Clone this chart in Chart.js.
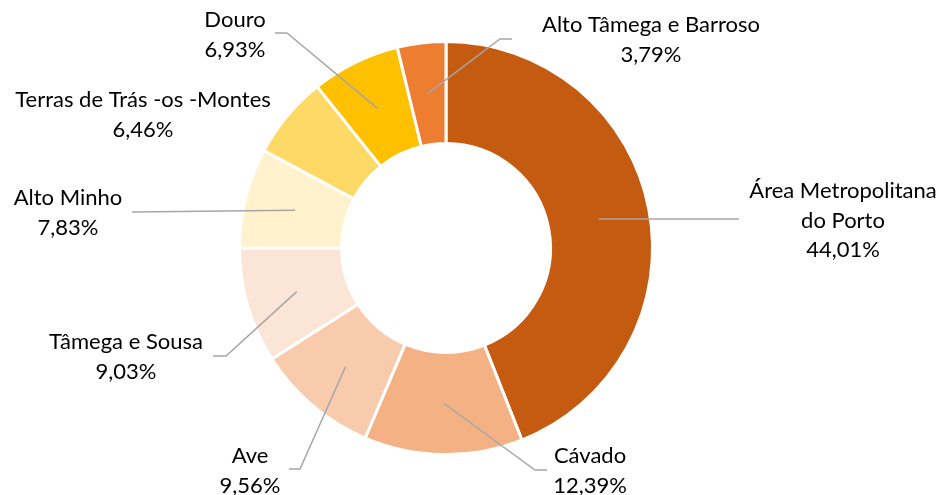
<!DOCTYPE html>
<html>
<head>
<meta charset="utf-8">
<script src="https://cdn.jsdelivr.net/npm/chart.js@4.4.0/dist/chart.umd.min.js"></script>
<style>
  html, body { margin: 0; background: #fff; }
</style>
</head>
<body>
<canvas id="chart" width="944" height="495"></canvas>
<script>
// regions of Norte, clockwise from 12 o'clock
const regions = [
  "Área Metropolitana\ndo Porto",
  "Cávado",
  "Ave",
  "Tâmega e Sousa",
  "Alto Minho",
  "Terras de Trás -os -Montes",
  "Douro",
  "Alto Tâmega e Barroso",
];
const shares = [44.01, 12.39, 9.56, 9.03, 7.83, 6.46, 6.93, 3.79];
const colors = ["#C55A11", "#F4B183", "#F8CBAD", "#FBE5D6", "#FFF2CC", "#FFD966", "#FFC000", "#ED7D31"];

// where each label sits (first baseline) and how its leader line bends
const labelSpots = [
  { x: 843, y: 198, end: [739, 219] },
  { x: 590, y: 463, elbow: [535, 470], end: [547, 470] },
  { x: 250, y: 463, elbow: [300, 469], end: [289, 469] },
  { x: 126, y: 349, elbow: [226, 356], end: [213, 356] },
  { x: 68, y: 205, end: [132, 212] },
  { x: 143, y: 107 },
  { x: 235, y: 27, elbow: [287, 33], end: [275, 33] },
  { x: 651, y: 32, elbow: [500, 39], end: [512, 39] },
];

const FONT = '22px Lato, "Open Sans", sans-serif';
const LINE_H = 29.5;

const sliceLabels = {
  id: "sliceLabels",
  afterDatasetsDraw(chart) {
    const ctx = chart.ctx;
    const arcs = chart.getDatasetMeta(0).data;
    ctx.save();

    ctx.strokeStyle = "#A6A6A6";
    ctx.lineWidth = 1.5;
    arcs.forEach((arc, i) => {
      const spot = labelSpots[i];
      if (!spot.end) return;
      const p = arc.tooltipPosition();
      ctx.beginPath();
      ctx.moveTo(p.x, p.y);
      if (spot.elbow) ctx.lineTo(spot.elbow[0], spot.elbow[1]);
      ctx.lineTo(spot.end[0], spot.end[1]);
      ctx.stroke();
    });

    ctx.fillStyle = "#000";
    ctx.font = FONT;
    ctx.textAlign = "center";
    ctx.textBaseline = "alphabetic";
    regions.forEach((name, i) => {
      const spot = labelSpots[i];
      const lines = name.split("\n");
      lines.push(shares[i].toFixed(2).replace(".", ",") + "%");
      lines.forEach((line, k) => {
        ctx.fillText(line, spot.x, spot.y + k * LINE_H);
      });
    });
    ctx.restore();
  },
};

new Chart(document.getElementById("chart"), {
  type: "doughnut",
  data: {
    labels: regions,
    datasets: [
      {
        data: shares,
        backgroundColor: colors,
        borderColor: "#fff",
        borderWidth: 3,
      },
    ],
  },
  options: {
    responsive: false,
    animation: false,
    radius: 206.5,
    cutout: "50.6%",
    layout: { padding: { left: 0, right: 52, top: 1, bottom: 0 } },
    plugins: {
      legend: { display: false },
      tooltip: { enabled: false },
    },
  },
  plugins: [sliceLabels],
});
</script>
</body>
</html>
